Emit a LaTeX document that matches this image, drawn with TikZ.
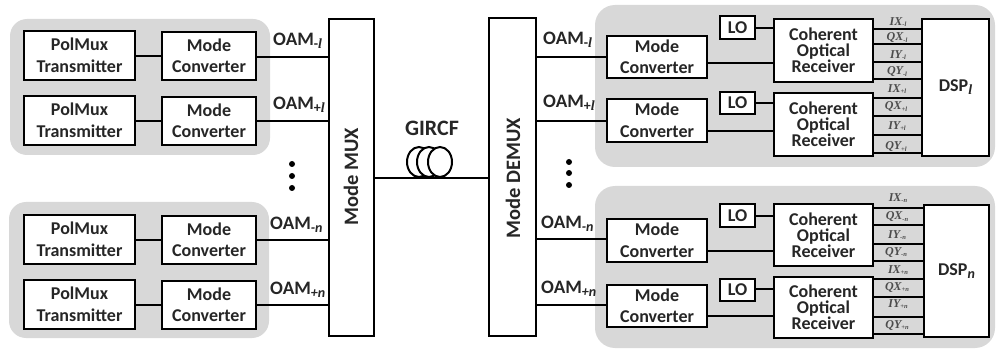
\documentclass[tikz,border=0pt]{standalone}
\usepackage{fontspec}
\usetikzlibrary{shapes.geometric}
\setmainfont{Carlito}
\newfontfamily\sigfont{Liberation Serif}
\newcommand{\bx}[6]{\node[boxnode,minimum width={(#4-#2)*1pt},minimum height={(#5-#3)*1pt}] (#1) at ({(#2+#4)/2},{(#3+#5)/2}) {#6};}
\newcommand{\hl}[3]{\coordinate (hh) at (0,#3); \draw[wire] (#1 |- hh) -- (#2 |- hh);}
\newcommand{\sg}[3]{\coordinate (hh) at (0,#2); \draw[sigwire] (#1.east |- hh) -- (#3.west |- hh);}
\newcommand{\subt}[1]{\raisebox{-3pt}{\fontsize{14}{14}\selectfont\itshape #1}}
\newcommand{\subl}[1]{\raisebox{-3pt}{\fontsize{14}{14}\selectfont #1\sigfont\itshape\bfseries l}}
\newcommand{\sigl}[4]{\node[siglabel] (#1) at (#2,#3) {#4};}
\newcommand{\sgn}[2]{{\sigfont #1\raisebox{-1.5pt}{\fontsize{6.5}{6.5}\selectfont #2}}}
\tikzset{
  boxnode/.style={draw=black,fill=white,line width=2.5pt,inner sep=0pt,outer sep=0pt,align=center,font=\fontsize{18}{21.5}\selectfont\bfseries,text=black!85},
  corbox/.style={font=\fontsize{18}{16}\selectfont\bfseries},
  wire/.style={draw=black,line width=2.3pt},
  sigwire/.style={draw=black,line width=1.9pt},
  grp/.style={fill=groupgray,draw=none,rounded corners=17pt},
  oam/.style={anchor=west,inner sep=0pt,font=\fontsize{19}{19}\selectfont\bfseries,text=black!85},
  siglabel/.style={inner sep=0pt,font=\fontsize{12}{12}\selectfont\bfseries\itshape,text=black!70},
  dotnode/.style={circle,fill=black,inner sep=0pt,minimum size=6pt},
  coil/.style={draw=black,fill=white,line width=2pt},
}
\definecolor{groupgray}{HTML}{D8D8D8}
\begin{document}
\begin{tikzpicture}[x=1pt,y=-1pt]
\useasboundingbox (0,0) rectangle (997,350);
% groups
\fill[grp] (10,19) rectangle (270,155);
\fill[grp] (9,202) rectangle (269,338);
\fill[grp,rounded corners=20pt] (595,5) rectangle (995,167);
\fill[grp,rounded corners=20pt] (595,186) rectangle (995,348);
% transmitters
\bx{tA}{24}{31}{135}{80}{PolMux\\Transmitter}
\bx{mA}{162}{32}{256}{80}{Mode\\Converter}
\bx{tB}{24}{96}{135}{145}{PolMux\\Transmitter}
\bx{mB}{162}{97}{256}{145}{Mode\\Converter}
\bx{tC}{24}{215}{135}{264}{PolMux\\Transmitter}
\bx{mC}{162}{216}{256}{264}{Mode\\Converter}
\bx{tD}{24}{280}{135}{329}{PolMux\\Transmitter}
\bx{mD}{162}{281}{256}{329}{Mode\\Converter}
% mux / demux
\node[boxnode,minimum width=45pt,minimum height=317pt] (mux) at (351.5,177.5) {};
\node[font=\fontsize{20.5}{20.5}\selectfont\bfseries,text=black!85,rotate=90,inner sep=0pt] (muxt) at (351,177) {Mode MUX};
\node[boxnode,minimum width=47pt,minimum height=318pt] (demux) at (512.5,177) {};
\node[font=\fontsize{20.5}{20.5}\selectfont\bfseries,text=black!85,rotate=90,inner sep=0pt] (demuxt) at (513,178) {Mode DEMUX};
% receivers upper
\bx{rA}{607}{36}{707}{78}{Mode\\Converter}
\bx{rB}{607}{99}{707}{142}{Mode\\Converter}
\bx{loA}{720}{16}{755}{39}{LO}
\bx{loB}{720}{92}{755}{114}{LO}
\node[boxnode,corbox,minimum width=99pt,minimum height=63pt] (cA) at (823.5,50.5) {Coherent\\Optical\\Receiver};
\node[boxnode,corbox,minimum width=99pt,minimum height=63pt] (cB) at (823.5,124.5) {Coherent\\Optical\\Receiver};
\bx{dspA}{922}{19}{989}{156}{DSP\subl{}}
% receivers lower
\bx{rC}{607}{219}{707}{262}{Mode\\Converter}
\bx{rD}{607}{285}{707}{327}{Mode\\Converter}
\bx{loC}{720}{204}{755}{227}{LO}
\bx{loD}{720}{279}{755}{301}{LO}
\node[boxnode,corbox,minimum width=99pt,minimum height=62pt] (cC) at (823.5,235) {Coherent\\Optical\\Receiver};
\node[boxnode,corbox,minimum width=99pt,minimum height=61pt] (cD) at (823.5,307.5) {Coherent\\Optical\\Receiver};
\bx{dspB}{924}{205}{989}{337}{DSP\subt{n}}
% connectors left
\hl{tA.east}{mA.west}{56}
\hl{tB.east}{mB.west}{121}
\hl{tC.east}{mC.west}{240}
\hl{tD.east}{mD.west}{305}
\hl{mA.east}{mux.west}{57}
\hl{mB.east}{mux.west}{121}
\hl{mC.east}{mux.west}{240}
\hl{mD.east}{mux.west}{305}
% fibre
\node[coil,ellipse,minimum width=24pt,minimum height=30pt,inner sep=0pt] (coilA) at (419,162) {};
\node[coil,ellipse,minimum width=24pt,minimum height=30pt,inner sep=0pt] (coilB) at (429,162) {};
\node[coil,ellipse,minimum width=24pt,minimum height=30pt,inner sep=0pt] (coilC) at (440,162) {};
\hl{mux.east}{demux.west}{178}
\node[font=\fontsize{22}{22}\selectfont\bfseries,text=black!85,inner sep=0pt] (gircf) at (432,128) {GIRCF};
% connectors right
\hl{demux.east}{rA.west}{57}
\hl{demux.east}{rB.west}{121}
\hl{demux.east}{rC.west}{239}
\hl{demux.east}{rD.west}{305}
\hl{rA.east}{cA.west}{63}
\hl{rB.east}{cB.west}{131}
\hl{rC.east}{cC.west}{251}
\hl{rD.east}{cD.west}{316}
\hl{loA.east}{cA.west}{28}
\hl{loB.east}{cB.west}{103}
\hl{loC.east}{cC.west}{216}
\hl{loD.east}{cD.west}{289}
% signals
\sg{cA}{29}{dspA}\sg{cA}{44}{dspA}\sg{cA}{62}{dspA}\sg{cA}{79}{dspA}
\sg{cB}{98}{dspA}\sg{cB}{116}{dspA}\sg{cB}{135}{dspA}\sg{cB}{153}{dspA}
\sg{cC}{208}{dspB}\sg{cC}{225}{dspB}\sg{cC}{244}{dspB}\sg{cC}{261}{dspB}
\sg{cD}{279}{dspB}\sg{cD}{297}{dspB}\sg{cD}{317}{dspB}\sg{cD}{334}{dspB}
% signal labels
\sigl{a1}{898}{22}{\sgn{IX}{-l}}
\sigl{a2}{897}{38}{\sgn{QX}{-l}}
\sigl{a3}{898}{55}{\sgn{IY}{-l}}
\sigl{a4}{897}{72}{\sgn{QY}{-l}}
\sigl{a5}{897}{89}{\sgn{IX}{+l}}
\sigl{a6}{896}{107}{\sgn{QX}{+l}}
\sigl{a7}{897}{126}{\sgn{IY}{+l}}
\sigl{a8}{896}{147}{\sgn{QY}{+l}}
\sigl{b1}{898}{198}{\sgn{IX}{-n}}
\sigl{b2}{897}{217}{\sgn{QX}{-n}}
\sigl{b3}{897}{235}{\sgn{IY}{-n}}
\sigl{b4}{896}{252}{\sgn{QY}{-n}}
\sigl{b5}{898}{270}{\sgn{IX}{+n}}
\sigl{b6}{897}{287}{\sgn{QX}{+n}}
\sigl{b7}{898}{304}{\sgn{IY}{+n}}
\sigl{b8}{897}{325}{\sgn{QY}{+n}}
% OAM labels
\node[oam] (oA) at (273,41) {OAM\subl{-}};
\node[oam] (oB) at (273,105) {OAM\subl{+}};
\node[oam] (oC) at (270,225) {OAM\subt{-n}};
\node[oam] (oD) at (270,290) {OAM\subt{+n}};
\node[oam] (oE) at (543,40) {OAM\subl{-}};
\node[oam] (oF) at (543,103) {OAM\subl{+}};
\node[oam] (oG) at (541,224) {OAM\subt{-n}};
\node[oam] (oH) at (541,289) {OAM\subt{+n}};
% dots
\node[dotnode] (d1) at (292,164) {};
\node[dotnode] (d2) at (292,176) {};
\node[dotnode] (d3) at (292,188) {};
\node[dotnode] (d4) at (569,162) {};
\node[dotnode] (d5) at (569,173) {};
\node[dotnode] (d6) at (569,185) {};
\end{tikzpicture}
\end{document}
